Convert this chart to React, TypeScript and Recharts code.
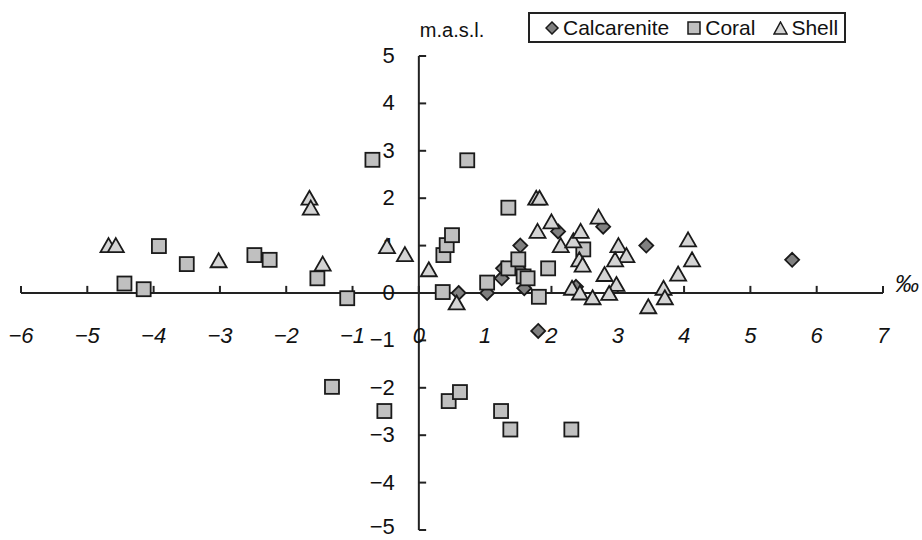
import {
  Legend,
  ReferenceDot,
  ReferenceLine,
  Scatter,
  ScatterChart,
  XAxis,
  YAxis
} from 'recharts';

// isotope value (‰) vs. elevation (m.a.s.l.)
const calcarenite = [
  { x: 0.6, y: 0.0 },
  { x: 1.03, y: 0.0 },
  { x: 1.25, y: 0.31 },
  { x: 1.27, y: 0.52 },
  { x: 1.5, y: 0.52 },
  { x: 1.53, y: 1.0 },
  { x: 1.59, y: 0.1 },
  { x: 1.8, y: -0.8 },
  { x: 2.1, y: 1.3 },
  { x: 2.37, y: 0.13 },
  { x: 2.78, y: 1.4 },
  { x: 3.43, y: 1.0 },
  { x: 5.63, y: 0.7 },
];

const coral = [
  { x: -4.44, y: 0.2 },
  { x: -4.15, y: 0.08 },
  { x: -3.92, y: 0.99 },
  { x: -3.5, y: 0.61 },
  { x: -2.48, y: 0.8 },
  { x: -2.25, y: 0.7 },
  { x: -1.53, y: 0.31 },
  { x: -1.08, y: -0.11 },
  { x: -0.7, y: 2.81 },
  { x: -1.31, y: -1.98 },
  { x: -0.52, y: -2.49 },
  { x: 0.36, y: 0.02 },
  { x: 0.37, y: 0.8 },
  { x: 0.42, y: 1.01 },
  { x: 0.5, y: 1.22 },
  { x: 0.73, y: 2.8 },
  { x: 0.45, y: -2.28 },
  { x: 0.62, y: -2.09 },
  { x: 1.03, y: 0.22 },
  { x: 1.35, y: 0.52 },
  { x: 1.35, y: 1.8 },
  { x: 1.5, y: 0.71 },
  { x: 1.58, y: 0.35 },
  { x: 1.64, y: 0.31 },
  { x: 1.81, y: -0.08 },
  { x: 1.95, y: 0.52 },
  { x: 2.48, y: 0.92 },
  { x: 1.24, y: -2.49 },
  { x: 1.38, y: -2.88 },
  { x: 2.3, y: -2.88 },
];

const shell = [
  { x: -4.68, y: 1.0 },
  { x: -4.57, y: 1.0 },
  { x: -3.02, y: 0.68 },
  { x: -1.65, y: 2.0 },
  { x: -1.63, y: 1.79 },
  { x: -1.45, y: 0.61 },
  { x: -0.48, y: 0.98 },
  { x: -0.21, y: 0.81 },
  { x: 0.15, y: 0.49 },
  { x: 0.57, y: -0.21 },
  { x: 1.77, y: 2.0 },
  { x: 1.82, y: 2.0 },
  { x: 1.79, y: 1.3 },
  { x: 2.0, y: 1.5 },
  { x: 2.14, y: 1.0 },
  { x: 2.33, y: 1.1 },
  { x: 2.44, y: 1.3 },
  { x: 2.71, y: 1.6 },
  { x: 3.01, y: 1.0 },
  { x: 3.13, y: 0.79 },
  { x: 2.96, y: 0.7 },
  { x: 2.42, y: 0.7 },
  { x: 2.47, y: 0.59 },
  { x: 2.8, y: 0.39 },
  { x: 2.98, y: 0.18 },
  { x: 2.31, y: 0.1 },
  { x: 2.43, y: 0.0 },
  { x: 2.62, y: -0.1 },
  { x: 2.87, y: -0.01 },
  { x: 3.46, y: -0.29 },
  { x: 3.69, y: 0.1 },
  { x: 3.71, y: -0.1 },
  { x: 3.91, y: 0.4 },
  { x: 4.06, y: 1.12 },
  { x: 4.12, y: 0.7 },
];

const X_TICKS = [-6, -5, -4, -3, -2, -1, 0, 1, 2, 3, 4, 5, 6, 7];
const Y_TICKS = [-5, -4, -3, -2, -1, 0, 1, 2, 3, 4, 5];

const FONT = '"Liberation Sans", Arial, sans-serif';
const AXIS = '#222';
const EDGE = '#1a1a1a';

const fmt = (v: number) => (v < 0 ? '\u2212' + Math.abs(v) : String(v));

const diamondPath = (cx: number, cy: number, r: number) =>
  `${cx},${cy - r} ${cx + r},${cy} ${cx},${cy + r} ${cx - r},${cy}`;
const trianglePath = (cx: number, cy: number) =>
  `${cx},${cy - 7.5} ${cx + 8},${cy + 6.5} ${cx - 8},${cy + 6.5}`;

const Diamond = ({ cx, cy }: any) => (
  <polygon points={diamondPath(cx, cy, 7)} fill="#808080" stroke={EDGE} strokeWidth={1.8} />
);
const Square = ({ cx, cy }: any) => (
  <rect x={cx - 7} y={cy - 7} width={14} height={14} fill="#c0c0c0" stroke={EDGE} strokeWidth={1.8} />
);
const Triangle = ({ cx, cy }: any) => (
  <polygon points={trianglePath(cx, cy)} fill="#d4d4d4" stroke={EDGE} strokeWidth={1.8} />
);

const legendIcon = (name: string) => {
  if (name === 'Calcarenite') return <polygon points={diamondPath(7, 7, 6)} fill="#808080" stroke={EDGE} strokeWidth={1.5} />;
  if (name === 'Coral') return <rect x={1} y={1} width={12} height={12} fill="#c0c0c0" stroke={EDGE} strokeWidth={1.5} />;
  return <polygon points="7.5,1 14,13 1,13" fill="#d4d4d4" stroke={EDGE} strokeWidth={1.5} />;
};

const renderLegend = (props: any) => {
  const items = props.payload || [];
  return (
    <div
      style={{
        boxSizing: 'border-box',
        width: 318,
        height: 31,
        border: '2px solid #222',
        background: '#fff',
        display: 'flex',
        alignItems: 'center',
        paddingLeft: 15,
        fontFamily: FONT,
        fontSize: 21,
        color: '#111',
      }}
    >
      {items.map((entry: any, i: number) => (
        <span key={entry.value} style={{ display: 'flex', alignItems: 'center', marginLeft: i === 0 ? 0 : 18 }}>
          <svg width={15} height={14} style={{ marginRight: 3 }}>
            {legendIcon(entry.value)}
          </svg>
          <span>{entry.value}</span>
        </span>
      ))}
    </div>
  );
};

export default function App() {
  return (
    <div style={{ position: 'absolute', left: 0, top: 0, background: '#fff' }}>
      <ScatterChart width={922} height={540} margin={{ top: 56, right: 39, bottom: 10, left: 21 }}>
        <XAxis type="number" dataKey="x" domain={[-6, 7]} hide />
        <YAxis type="number" dataKey="y" domain={[-5, 5]} hide />

        <ReferenceLine x={0} stroke={AXIS} strokeWidth={2} />
        <ReferenceLine y={0} stroke={AXIS} strokeWidth={2} />
        {X_TICKS.map((t) => (
          <ReferenceLine key={'xt' + t} segment={[{ x: t, y: 0 }, { x: t, y: 0.15 }]} stroke={AXIS} strokeWidth={2} />
        ))}
        {Y_TICKS.map((t) => (
          <ReferenceLine key={'yt' + t} segment={[{ x: 0, y: t }, { x: 0.11, y: t }]} stroke={AXIS} strokeWidth={2} />
        ))}
        {X_TICKS.map((t) => (
          <ReferenceDot
            key={'xl' + t}
            x={t}
            y={0}
            r={0}
            ifOverflow="visible"
            shape={(p: any) => (
              <text x={p.cx} y={p.cy + 50} textAnchor="middle" fontStyle="italic" fontSize={22} fontFamily={FONT} fill="#111">
                {fmt(t)}
              </text>
            )}
          />
        ))}
        {Y_TICKS.map((t) => (
          <ReferenceDot
            key={'yl' + t}
            x={0}
            y={t}
            r={0}
            ifOverflow="visible"
            shape={(p: any) => (
              <text x={p.cx - 24} y={p.cy + (t === -5 ? 4 : 7)} textAnchor="end" fontSize={22} fontFamily={FONT} fill="#111">
                {fmt(t)}
              </text>
            )}
          />
        ))}
        <ReferenceDot
          x={0}
          y={5}
          r={0}
          ifOverflow="visible"
          shape={(p: any) => (
            <text x={p.cx + 1} y={p.cy - 19} fontSize={20} fontFamily={FONT} fill="#111">
              m.a.s.l.
            </text>
          )}
        />
        <ReferenceDot
          x={7}
          y={0}
          r={0}
          ifOverflow="visible"
          shape={(p: any) => (
            <text x={p.cx + 12} y={p.cy - 1} fontSize={24} fontStyle="italic" fontFamily={FONT} fill="#111">
              ‰
            </text>
          )}
        />

        <Scatter name="Calcarenite" data={calcarenite} shape={Diamond} isAnimationActive={false} />
        <Scatter name="Coral" data={coral} shape={Square} isAnimationActive={false} />
        <Scatter name="Shell" data={shell} shape={Triangle} isAnimationActive={false} />

        <Legend
          layout="vertical"
          align="center"
          verticalAlign="middle"
          content={renderLegend}
          wrapperStyle={{ position: 'absolute', top: 12, left: 528, width: 318, height: 31 }}
        />
      </ScatterChart>
    </div>
  );
}
